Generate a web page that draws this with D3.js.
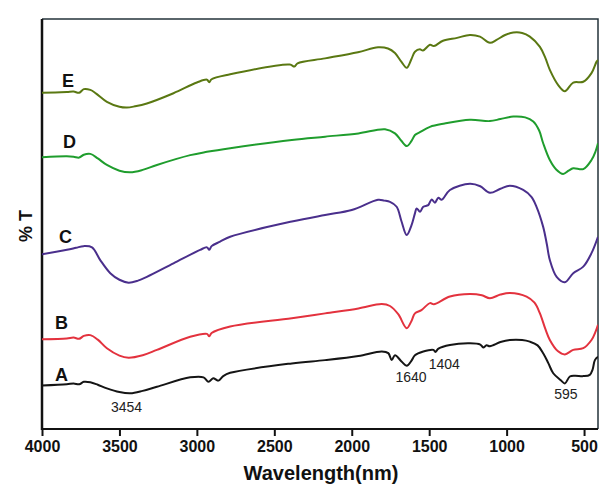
<!DOCTYPE html>
<html>
<head>
<meta charset="utf-8">
<script src="https://cdn.jsdelivr.net/npm/d3@7"></script>
<style>
  body { margin: 0; background: #fff; }
  text { font-family: "Liberation Sans", Arial, sans-serif; }
</style>
</head>
<body>
<div class="vis"></div>
<script>
// wavenumber (cm-1) / %T pairs, one array per sample
const seriesE = [
  [4000, 82.0], [3840, 82.2], [3796, 82.3], [3760, 82.0], [3730, 82.9], [3688, 82.7], [3650, 81.8],
  [3581, 79.8], [3500, 78.6], [3452, 78.4], [3400, 78.7], [3323, 79.4], [3151, 81.9], [3000, 84.5],
  [2935, 85.2], [2920, 84.6], [2905, 85.3], [2785, 86.5], [2400, 88.9], [2370, 88.4], [2350, 89.2],
  [2172, 90.4], [1960, 91.9], [1830, 93.1], [1766, 92.8], [1721, 91.7], [1680, 89.6], [1645, 88.1],
  [1615, 90.2], [1592, 92.0], [1560, 92.6], [1540, 92.3], [1495, 93.7], [1470, 93.4], [1411, 94.7],
  [1320, 95.4], [1237, 96.1], [1172, 95.7], [1108, 94.2], [1065, 94.9], [1010, 96.1], [957, 96.7],
  [900, 96.6], [850, 95.7], [785, 93.2], [750, 90.5], [721, 87.6], [667, 83.9], [624, 82.4],
  [570, 84.5], [505, 84.7], [452, 86.8], [419, 89.6], [410, 90.0]
];
const seriesD = [
  [4000, 66.3], [3840, 66.5], [3796, 66.4], [3760, 66.2], [3730, 66.9], [3688, 67.1], [3640, 66.0],
  [3581, 64.4], [3500, 63.0], [3430, 62.6], [3350, 63.2], [3258, 64.4], [3043, 66.8], [2935, 67.6],
  [2785, 68.5], [2387, 70.5], [2172, 71.3], [1957, 72.1], [1785, 73.1], [1721, 72.1], [1680, 70.3],
  [1645, 69.0], [1615, 70.2], [1592, 71.7], [1560, 72.4], [1495, 73.7], [1400, 74.5], [1237, 75.4],
  [1108, 75.1], [1040, 75.6], [957, 76.2], [880, 76.0], [828, 75.0], [790, 72.8], [764, 69.7],
  [721, 65.6], [680, 63.3], [635, 62.2], [600, 63.0], [570, 63.6], [505, 63.4], [452, 65.6],
  [425, 67.8], [410, 69.7]
];
const seriesC = [
  [4000, 42.6], [3839, 43.7], [3780, 44.2], [3732, 44.6], [3677, 44.3], [3624, 41.2], [3559, 38.0],
  [3500, 36.4], [3441, 35.7], [3380, 36.2], [3323, 37.1], [3151, 40.4], [2979, 43.7], [2935, 44.3],
  [2920, 43.7], [2905, 44.6], [2850, 45.7], [2785, 46.9], [2387, 50.6], [2172, 52.2], [2000, 53.4],
  [1830, 55.9], [1790, 55.7], [1753, 55.4], [1710, 54.2], [1680, 50.8], [1645, 47.3], [1615, 49.6],
  [1592, 52.6], [1581, 53.8], [1559, 53.0], [1538, 54.2], [1506, 54.6], [1484, 56.0], [1463, 55.2],
  [1441, 56.4], [1419, 55.9], [1366, 58.3], [1237, 59.8], [1170, 59.2], [1108, 57.6], [1040, 58.6],
  [979, 59.3], [893, 58.3], [840, 56.6], [807, 54.2], [764, 49.3], [740, 45.0], [721, 41.2],
  [677, 37.1], [624, 35.8], [570, 38.0], [505, 39.6], [452, 42.9], [410, 46.9]
];
const seriesB = [
  [4000, 21.9], [3840, 22.1], [3796, 22.3], [3760, 22.0], [3730, 22.7], [3688, 22.9], [3640, 21.8],
  [3581, 19.7], [3500, 17.9], [3441, 17.4], [3350, 18.0], [3258, 19.3], [3043, 22.5], [2935, 23.2],
  [2920, 22.6], [2905, 23.4], [2785, 25.0], [2387, 27.0], [2172, 28.2], [1957, 29.4], [1806, 30.5],
  [1753, 30.0], [1700, 28.0], [1645, 24.6], [1615, 26.3], [1592, 28.2], [1550, 29.0], [1495, 30.7],
  [1470, 30.4], [1366, 32.3], [1237, 32.9], [1160, 32.6], [1108, 31.9], [1040, 32.8], [979, 33.2],
  [871, 32.3], [820, 30.8], [785, 28.2], [750, 24.4], [721, 21.7], [670, 19.0], [624, 18.2],
  [570, 19.3], [505, 19.7], [452, 21.7], [425, 23.8], [410, 25.4]
];
const seriesA = [
  [4000, 10.6], [3840, 10.9], [3796, 11.1], [3760, 10.9], [3730, 11.5], [3688, 11.4], [3640, 10.8],
  [3581, 9.9], [3500, 9.0], [3430, 8.7], [3350, 9.3], [3258, 10.3], [3043, 12.6], [2957, 12.6],
  [2925, 11.5], [2895, 12.4], [2862, 11.8], [2830, 12.9], [2785, 13.7], [2387, 16.0], [2172, 16.8],
  [1957, 17.8], [1806, 18.9], [1764, 18.5], [1742, 16.8], [1721, 18.0], [1677, 16.4], [1645, 15.4],
  [1615, 16.6], [1592, 18.0], [1538, 18.9], [1473, 19.3], [1460, 18.8], [1440, 19.6], [1366, 20.5],
  [1237, 20.9], [1170, 20.6], [1151, 19.9], [1130, 20.4], [1108, 20.2], [1040, 21.2], [979, 21.7],
  [900, 21.7], [850, 21.3], [800, 20.4], [764, 18.5], [730, 16.0], [699, 13.6], [650, 11.9],
  [624, 11.1], [592, 12.8], [560, 13.0], [505, 12.9], [463, 13.2], [445, 14.5], [430, 16.8], [410, 17.6]
];

const seriesNames = ["A", "B", "C", "D", "E"];
const seriesColors = ["#151515", "#e3323e", "#4a2f8c", "#1f9d2d", "#5a7812"];
const allSeries = [seriesA, seriesB, seriesC, seriesD, seriesE];

const xTicks = [4000, 3500, 3000, 2500, 2000, 1500, 1000, 500];

// band labels on curve A
const peakLabels = ["3454", "1640", "1404", "595"];
const peakWaves = [3454, 1617, 1403, 617];

// Set up the chart dimensions
const margin = { top: 19, right: 3, bottom: 56, left: 42 };
const width = 601 - margin.left - margin.right;
const height = 485 - margin.top - margin.bottom;

const svg = d3.select(".vis")
  .append("svg")
  .attr("width", 601)
  .attr("height", 485)
  .append("g")
  .attr("transform", "translate(" + margin.left + "," + margin.top + ")");

// scales - wavenumber goes right to left
const xScale = d3.scaleLinear().domain([4000, 410]).range([0, width]);
const yScale = d3.scaleLinear().domain([0, 100]).range([height, 0]);

svg.append("clipPath")
  .attr("id", "plot-clip")
  .append("rect")
  .attr("width", width)
  .attr("height", height);

// frame top + right (thin)
svg.append("path")
  .attr("d", "M0,0H" + width + "V" + height)
  .attr("fill", "none")
  .attr("stroke", "#24333b")
  .attr("stroke-width", 1.5);

// x axis
const xAxis = svg.append("g")
  .attr("transform", "translate(0," + height + ")")
  .call(d3.axisBottom(xScale).tickValues(xTicks).tickSize(7).tickPadding(5).tickFormat(d3.format("d")));

xAxis.select(".domain")
  .attr("d", "M0,0H" + width)
  .attr("stroke", "#111")
  .attr("stroke-width", 2);
xAxis.selectAll(".tick line").attr("stroke", "#111").attr("stroke-width", 2);
xAxis.selectAll(".tick text")
  .attr("fill", "#111")
  .style("font-size", "16px")
  .style("font-weight", "bold");

// y axis, only the line
svg.append("line")
  .attr("x1", 0).attr("x2", 0)
  .attr("y1", 0).attr("y2", height + 1)
  .attr("stroke", "#111")
  .attr("stroke-width", 2.5);

// axis titles
svg.append("text")
  .attr("x", 279)
  .attr("y", height + 51)
  .attr("text-anchor", "middle")
  .style("font-size", "20px")
  .style("font-weight", "bold")
  .attr("fill", "#111")
  .text("Wavelength(nm)");

svg.append("text")
  .attr("transform", "rotate(-90)")
  .attr("x", -207)
  .attr("y", -10)
  .attr("text-anchor", "middle")
  .style("font-size", "18px")
  .style("font-weight", "bold")
  .attr("fill", "#111")
  .text("% T");

// the spectra
const line = d3.line()
  .x(d => xScale(d[0]))
  .y(d => yScale(d[1]))
  .curve(d3.curveCatmullRom.alpha(0.5));

svg.append("g")
  .attr("clip-path", "url(#plot-clip)")
  .selectAll("path")
  .data(allSeries)
  .enter().append("path")
  .attr("fill", "none")
  .attr("stroke", (d, i) => seriesColors[i])
  .attr("stroke-width", 2)
  .attr("stroke-linejoin", "round")
  .attr("d", line);

// curve letters, sitting above where each curve starts
const letterDx = [13, 13, 17, 21, 20];
const letterDy = [5, 10, 11, 9, 6];
svg.selectAll(".letter")
  .data(allSeries)
  .enter().append("text")
  .attr("class", "letter")
  .attr("x", (d, i) => xScale(d[0][0]) + letterDx[i])
  .attr("y", (d, i) => yScale(d[0][1]) - letterDy[i])
  .style("font-size", "18px")
  .style("font-weight", "bold")
  .attr("fill", "#111")
  .text((d, i) => seriesNames[i]);

// peak labels under curve A
const peakDy = [19, 21, 20, 16];
svg.selectAll(".peak")
  .data(peakLabels)
  .enter().append("text")
  .attr("class", "peak")
  .attr("x", (d, i) => xScale(peakWaves[i]))
  .attr("y", (d, i) => {
    const near = seriesA.reduce((a, b) => Math.abs(b[0] - peakWaves[i]) < Math.abs(a[0] - peakWaves[i]) ? b : a);
    return yScale(near[1]) + peakDy[i];
  })
  .attr("text-anchor", "middle")
  .style("font-size", "14px")
  .attr("fill", "#222")
  .text(d => d);
</script>
</body>
</html>
